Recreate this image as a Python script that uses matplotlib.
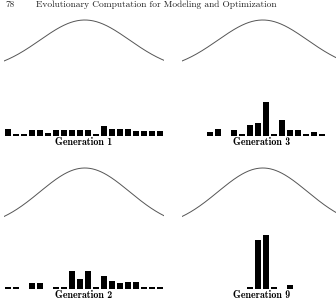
# Four panels: fitness curve above, population histogram below, one per generation.
import numpy as np
import matplotlib

matplotlib.use("Agg")
import matplotlib.pyplot as plt

W, H = 336, 301

header_page = "78"
header_title = "Evolutionary Computation for Modeling and Optimization"

n_bins = 20
# individuals per bin
gen1 = [6, 1, 1, 5, 5, 2, 5, 5, 5, 5, 5, 1, 9, 6, 6, 6, 4, 4, 4, 4]
gen3 = [0, 0, 0, 3, 6, 0, 5, 1, 10, 12, 31, 1, 14, 5, 5, 1, 3, 1, 0, 0]
gen2 = [1, 1, 0, 5, 5, 0, 1, 1, 16, 9, 16, 1, 12, 7, 5, 6, 6, 1, 1, 1]
gen9 = [0, 0, 0, 0, 0, 0, 0, 0, 1, 45, 50, 1, 0, 3, 0, 0, 0, 0, 0, 0]

# label, counts, panel left (px), baseline (px from top), curve top / edge (px above baseline)
panels = [
    ("Generation 1", gen1, 4, 135.5, 115.5, 74.5),
    ("Generation 3", gen3, 182, 135.5, 115.5, 74.5),
    ("Generation 2", gen2, 4, 288.5, 120.5, 72.0),
    ("Generation 9", gen9, 182, 288.5, 120.5, 72.0),
]

px_per_count = 1.08
panel_w, panel_h = 160, 130

# fitness curve (bell)
peak_at, sigma = 10.1, 5.6

fig = plt.figure(figsize=(W / 100, H / 100), dpi=100)
serif = ["cmr10", "DejaVu Serif"]
fig.text(5 / W, 1 - 4.5 / H, header_page, fontsize=6.8, family=serif,
         ha="left", va="center", color="#222")
fig.text(36 / W, 1 - 4.5 / H, header_title, fontsize=6.8, family=serif,
         ha="left", va="center", color="#222")

xs = np.linspace(0, n_bins, 300)
g = np.exp(-(xs - peak_at) ** 2 / (2 * sigma ** 2))
g_edge = np.exp(-(peak_at) ** 2 / (2 * sigma ** 2))

for label, counts, x0, base, c_top, c_edge in panels:
    ax = fig.add_axes([x0 / W, (H - base) / H, panel_w / W, panel_h / H])
    ax.set_xlim(0, n_bins)
    ax.set_ylim(0, panel_h)
    ax.axis("off")
    amp = (c_top - c_edge) / (1 - g_edge)
    ax.plot(xs, c_top - amp + amp * g, color="#555555", lw=0.7)
    heights = np.array(counts) * px_per_count
    ax.bar(np.arange(n_bins) + 0.5, heights, width=0.85, color="black", linewidth=0)
    # label sits just under the baseline
    fig.text((x0 + 80) / W, 1 - (base + 1.5) / H, label, fontsize=7.2,
             family=["cmb10", "DejaVu Serif"], weight="bold", ha="center", va="top")

fig.savefig("out.png", dpi=100)
